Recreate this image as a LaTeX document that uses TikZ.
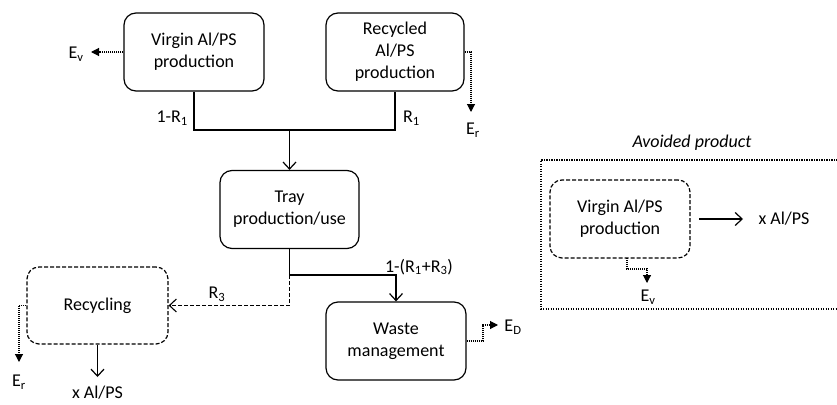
\documentclass[tikz,border=0pt]{standalone}
\usepackage{fontspec}
\setmainfont{Carlito}
\usetikzlibrary{arrows.meta}
\tikzset{
  box/.style={draw, rounded corners=12pt, line width=1.2pt, minimum width=140pt, minimum height=78pt, align=center, inner sep=2pt},
  dbox/.style={box, dash pattern=on 4pt off 2pt},
  arr/.style={line width=1.2pt, -{Straight Barb[length=7pt,width=13pt,line width=1.2pt]}},
  darr/.style={line width=1.1pt, dash pattern=on 4pt off 2pt, -{Straight Barb[length=7pt,width=13pt,line width=1.1pt]}},
  dotarr/.style={line width=1.1pt, dash pattern=on 1pt off 1pt, -{Triangle[length=8pt,width=8pt]}},
  lbl/.style={inner sep=0pt}
}
\begin{document}
\begin{tikzpicture}[x=1pt,y=-1pt,font=\fontsize{18}{22}\selectfont]
\useasboundingbox (0,0) rectangle (837,404);
\clip (0,0) rectangle (837,404);
% main boxes
\node[box] (virgin) at (194,52) {Virgin Al/PS\\production};
\node[box, minimum width=138pt] (recycled) at (395,52) {Recycled\\Al/PS\\production};
\node[box, minimum width=139pt] (tray) at (289.5,209.5) {Tray\\production/use};
\node[dbox, minimum width=141pt, minimum height=77pt] (recycling) at (97.5,305.5) {Recycling};
\node[box] (waste) at (396,341) {Waste\\management};
% labels
\node[lbl, anchor=east] (l1) at (188,118) {1-R\textsubscript{1}};
\node[lbl, anchor=west] (l2) at (403,118) {R\textsubscript{1}};
\node[lbl] (l3) at (419,267) {1-(R\textsubscript{1}+R\textsubscript{3})};
\node[lbl] (l4) at (217,294) {R\textsubscript{3}};
\node[lbl] (ev1) at (76,54) {E\textsubscript{v}};
\node[lbl] (er1) at (473,130) {E\textsubscript{r}};
\node[lbl] (er2) at (19,382) {E\textsubscript{r}};
\node[lbl] (ed) at (513,327) {E\textsubscript{D}};
\node[lbl] (xal1) at (97.5,393) {x Al/PS};
% coordinates
\coordinate (jm) at (289.5,130);
\coordinate (jb) at (289.5,275);
\coordinate (ev1t) at (91,52);
\coordinate (er1t) at (471,112);
\coordinate (er2t) at (19,362);
\coordinate (xal1t) at (97.5,377);
\coordinate (ed1) at (483,341);
\coordinate (ed2) at (483,325);
\coordinate (edt) at (498,325);
% connectors
\draw[line width=1.2pt] (virgin.south) |- (jm) -| (recycled.south);
\draw[arr] (jm) -- (tray.north);
\draw[arr] (tray.south) -- (jb) -| (waste.north);
\draw[darr] (jb) |- (recycling.east);
\draw[dotarr] (virgin.west) -- (ev1t);
\draw[dotarr] (recycled.east) -| (er1t);
\draw[dotarr] (recycling.west) -| (er2t);
\draw[arr] (recycling.south) -- (xal1t);
\draw[dotarr] (waste.east) -- (ed1) -- (ed2) -- (edt);
% avoided product
\draw[line width=1.6pt, dash pattern=on 1.3pt off 1.2pt] (850,160) -- (541,160) -- (541,309) -- (850,309);
\node[lbl, font=\fontsize{18}{22}\selectfont\itshape] (avlbl) at (692,143) {Avoided product};
\node[dbox] (inner) at (620,219) {Virgin Al/PS\\production};
\node[lbl] (xal2) at (784,219) {x Al/PS};
\node[lbl] (ev2) at (648,297) {E\textsubscript{v}};
\coordinate (a1) at (699,219);
\coordinate (a2) at (743,219);
\coordinate (iv1) at (627,258);
\coordinate (iv2) at (627,269);
\coordinate (iv3) at (647,269);
\coordinate (ivt) at (647,283);
\draw[arr] (a1) -- (a2);
\draw[dotarr] (iv1) -- (iv2) -- (iv3) -- (ivt);
\end{tikzpicture}
\end{document}
